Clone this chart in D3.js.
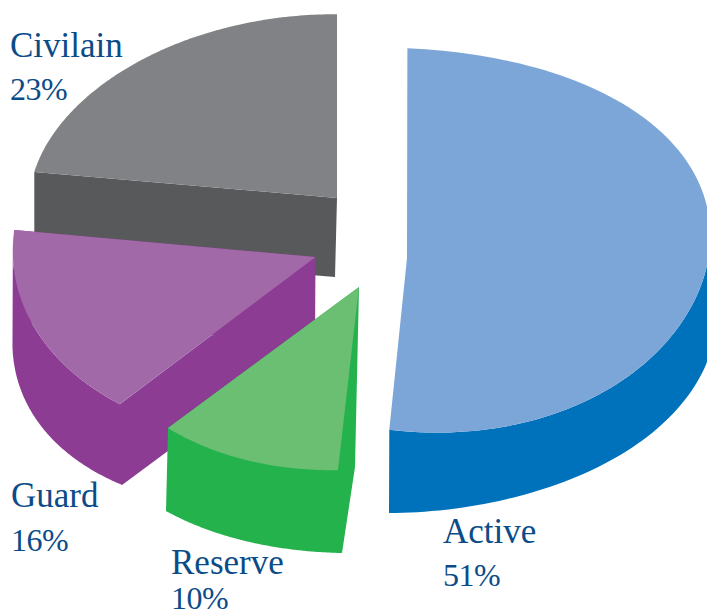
<!DOCTYPE html>
<html><head><meta charset="utf-8"><script src="https://cdn.jsdelivr.net/npm/d3@7/dist/d3.min.js"></script>
<style>html,body{margin:0;background:#fff;overflow:hidden}svg{display:block}</style></head>
<body><svg width="707" height="610"></svg>
<script>
// Data
const categories=["Active","Reserve","Guard","Civilain"];
const values=[51,10,16,23];
// Styles
const topColors=["#7da6d8","#6abf73","#a169a8","#808285"];
const wallColors=["#0072bc","#23b24c","#8d3c94","#58595b"];
const textColor="#0b4c88";
// Layout: exploded slice apexes and the perspective of each slice's top and wall
const apex=[[407,258],[359,287],[315.5,257],[337,198]];
const apexBottom=[[407,341],[355,467],[315,342],[335,277]];
const showRadialWalls=[false,true,true,true];
const topProjection=[
 [310.134,-0.36,-3.512,192.445,0.025,0.122,-0.056,-0.016,0.018,-0.027],
 [294.501,-3.118,8.147,189.02,0.004,0.05,0.012,0.006,-0.036,-0.008],
 [300.84,-6.6,2.347,194.06,0.023,0.045,-0.001,0.002,-0.015,0.003],
 [302.445,-0.006,3.053,181.462,0.013,0,0.009,0,0.003,0.013]];
const wallProjection=[
 [-1.272713,-0.051089,81.262173,-0.109762,0.000246,0.000349],
 [4.537737,0.022355,83.578229,0.041461,-0.000063,0.000199],
 [4.655095,0.004995,64.762341,-0.067179,-0.000038,0.000075],
 [0,0,80,0,0,0]];
const labelPos=[[443,543,586],[171,574,609],[11,507,551],[10,57,100]];
const drawOrder=[3,0,2,1];

const arcs=d3.pie().sort(null).value(d=>d)(values);
const line=d3.line();
function project(a,p,th){
 const X=Math.sin(th),Y=-Math.cos(th),w=1+p[4]*X+p[5]*Y;
 const m=1+p[6]*Math.sin(2*th)+p[7]*Math.cos(2*th)+p[8]*Math.sin(3*th)+p[9]*Math.cos(3*th);
 return [a[0]+m*(p[0]*X+p[1]*Y)/w,a[1]+m*(p[2]*X+p[3]*Y)/w];
}
function angleScale(i){
 return d3.scaleLinear().domain([0,120]).range([arcs[i].startAngle,arcs[i].endAngle]);
}
function rim(i){
 const angle=angleScale(i);
 return d3.range(121).map(j=>project(apex[i],topProjection[i],angle(j)));
}
function lower(i,pts){
 const q=wallProjection[i];
 return pts.map(t=>{const dx=t[0]-apex[i][0];
  return [t[0]+q[0]+q[1]*dx+q[4]*dx*dx,t[1]+q[2]+q[3]*dx+q[5]*dx*dx];});
}
const orient=q=>d3.polygonArea(q)<0?q.slice().reverse():q;
const svg=d3.select("svg");
drawOrder.forEach(i=>{
 const R=rim(i),B=lower(i,R),angle=angleScale(i);
 const T=[apex[i],...R],U=[apexBottom[i],...B];
 const quads=[];
 T.forEach((t,j)=>{
  const k=(j+1)%T.length;
  const radial=j===0||k===0;
  if(radial&&!showRadialWalls[i])return;
  if(!radial&&Math.cos(angle(j-1))>0)return; // rim edges on the far side never face the viewer
  quads.push(line(orient([t,T[k],U[k],U[j]]))+"Z");
 });
 svg.append("path").attr("d",quads.join("")).attr("fill",wallColors[i]);
 svg.append("path").attr("d",line(T)+"Z").attr("fill",topColors[i]);
});
categories.forEach((c,i)=>{
 const g=svg.append("g").attr("font-family","'Liberation Serif',serif").attr("fill",textColor);
 g.append("text").attr("x",labelPos[i][0]).attr("y",labelPos[i][1]).attr("font-size",35).text(c);
 g.append("text").attr("x",labelPos[i][0]).attr("y",labelPos[i][2]).attr("font-size",32).attr("letter-spacing",-0.5).text(values[i]+"%");
});
</script></body></html>
